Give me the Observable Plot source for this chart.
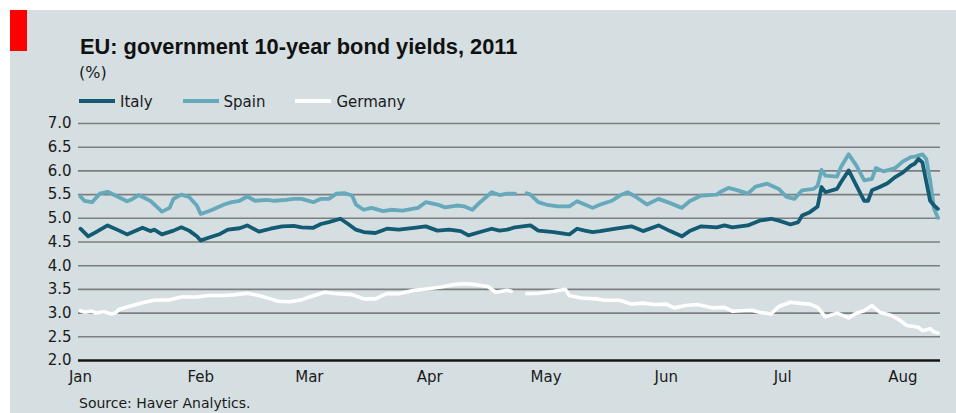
<!DOCTYPE html>
<html>
<head>
<meta charset="utf-8">
<script src="https://cdn.jsdelivr.net/npm/d3@7"></script>
<script src="https://cdn.jsdelivr.net/npm/@observablehq/plot@0.6"></script>
<style>
  html, body { margin: 0; padding: 0; background: #fff; }
  body { width: 956px; height: 413px; position: relative; overflow: hidden; }
  #panel { position: absolute; left: 10px; top: 10px; width: 946px; height: 403px; background: #d5dee1; }
  #red { position: absolute; left: 10px; top: 10px; width: 17px; height: 41px; background: #f00; }
  .t { position: absolute; white-space: nowrap; line-height: 1; }
  #title { left: 80px; top: 34px; font: bold 21.8px "Liberation Sans", Arial, sans-serif; color: #111; }
  #unit { left: 79px; top: 63px; font: 16px "DejaVu Sans", sans-serif; color: #1a1a1a; }
  #legend { position: absolute; left: 79px; top: 95px; display: flex; align-items: center; font: 15px "DejaVu Sans", sans-serif; color: #1a1a1a; line-height: 1; }
  .item { display: flex; align-items: center; margin-right: 30px; }
  .sw { display: inline-block; width: 36px; height: 4px; position: relative; top: -2px; }
  .lab { margin-left: 5px; }
  #chart { position: absolute; left: 0; top: 113px; }
  #source { left: 79px; top: 395px; font: 14px "DejaVu Sans", sans-serif; color: #1a1a1a; }
</style>
</head>
<body>
<div id="panel"></div>
<div id="red"></div>
<div id="title" class="t">EU: government 10-year bond yields, 2011</div>
<div id="unit" class="t">(%)</div>
<div id="legend"></div>
<div id="chart"></div>
<div id="source" class="t">Source: Haver Analytics.</div>
<script>
const seriesNames = ["Italy", "Spain", "Germany"];
const yTicks = [2.0, 2.5, 3.0, 3.5, 4.0, 4.5, 5.0, 5.5, 6.0, 6.5, 7.0];
const monthTicks = ["2011-01-01","2011-02-01","2011-03-01","2011-04-01","2011-05-01","2011-06-01","2011-07-01","2011-08-01"];
const monthLabels = ["Jan","Feb","Mar","Apr","May","Jun","Jul","Aug"];

const italy = [
["2011-01-01",4.78],["2011-01-03",4.62],["2011-01-05",4.71],["2011-01-08",4.85],["2011-01-11",4.74],
["2011-01-13",4.66],["2011-01-17",4.80],["2011-01-19",4.73],["2011-01-20",4.76],["2011-01-22",4.66],
["2011-01-25",4.74],["2011-01-27",4.81],["2011-01-29",4.74],["2011-01-31",4.62],["2011-02-01",4.53],
["2011-02-03",4.59],["2011-02-06",4.67],["2011-02-08",4.76],["2011-02-11",4.79],["2011-02-13",4.85],
["2011-02-16",4.72],["2011-02-19",4.78],["2011-02-22",4.83],["2011-02-25",4.84],["2011-02-27",4.81],
["2011-03-02",4.80],["2011-03-04",4.88],["2011-03-06",4.92],["2011-03-09",4.99],["2011-03-11",4.88],
["2011-03-13",4.76],["2011-03-15",4.71],["2011-03-18",4.69],["2011-03-21",4.78],["2011-03-24",4.76],
["2011-03-28",4.80],["2011-03-31",4.83],["2011-04-03",4.74],["2011-04-06",4.76],["2011-04-09",4.73],
["2011-04-11",4.64],["2011-04-14",4.71],["2011-04-17",4.78],["2011-04-19",4.74],["2011-04-21",4.76],
["2011-04-23",4.81],["2011-04-27",4.85],["2011-04-29",4.74],["2011-05-03",4.71],["2011-05-06",4.67],
["2011-05-07",4.66],["2011-05-09",4.78],["2011-05-11",4.74],["2011-05-13",4.71],["2011-05-15",4.73],
["2011-05-19",4.78],["2011-05-23",4.83],["2011-05-26",4.73],["2011-05-30",4.85],["2011-06-02",4.73],
["2011-06-05",4.62],["2011-06-07",4.73],["2011-06-10",4.83],["2011-06-14",4.81],["2011-06-16",4.85],
["2011-06-18",4.81],["2011-06-22",4.85],["2011-06-25",4.95],["2011-06-28",4.99],["2011-06-30",4.95],
["2011-07-03",4.87],["2011-07-05",4.92],["2011-07-06",5.06],["2011-07-08",5.13],["2011-07-10",5.25],
["2011-07-11",5.66],["2011-07-12",5.55],["2011-07-15",5.62],["2011-07-16",5.76],["2011-07-18",6.01],
["2011-07-20",5.69],["2011-07-22",5.37],["2011-07-23",5.37],["2011-07-24",5.59],["2011-07-26",5.66],
["2011-07-28",5.74],["2011-07-30",5.87],["2011-08-01",5.97],["2011-08-03",6.11],["2011-08-04",6.15],
["2011-08-05",6.25],["2011-08-06",6.18],["2011-08-08",5.37],["2011-08-09",5.27],["2011-08-10",5.20]
];

const spain = [
["2011-01-01",5.46],["2011-01-02",5.37],["2011-01-04",5.34],["2011-01-06",5.52],["2011-01-08",5.56],
["2011-01-10",5.48],["2011-01-13",5.36],["2011-01-14",5.39],["2011-01-16",5.49],["2011-01-19",5.37],
["2011-01-21",5.22],["2011-01-22",5.14],["2011-01-24",5.22],["2011-01-25",5.41],["2011-01-27",5.50],
["2011-01-29",5.45],["2011-01-31",5.27],["2011-02-01",5.09],["2011-02-03",5.15],["2011-02-04",5.18],
["2011-02-07",5.29],["2011-02-09",5.34],["2011-02-11",5.37],["2011-02-13",5.46],["2011-02-15",5.37],
["2011-02-18",5.39],["2011-02-20",5.37],["2011-02-23",5.39],["2011-02-25",5.41],["2011-02-27",5.41],
["2011-03-02",5.34],["2011-03-04",5.41],["2011-03-06",5.41],["2011-03-08",5.52],["2011-03-10",5.53],
["2011-03-12",5.48],["2011-03-13",5.29],["2011-03-15",5.18],["2011-03-17",5.22],["2011-03-20",5.15],
["2011-03-22",5.18],["2011-03-25",5.16],["2011-03-29",5.22],["2011-03-31",5.34],["2011-04-03",5.29],
["2011-04-05",5.23],["2011-04-08",5.27],["2011-04-10",5.25],["2011-04-12",5.18],["2011-04-14",5.34],
["2011-04-17",5.55],["2011-04-19",5.49],["2011-04-21",5.52],["2011-04-23",5.52],["2011-04-24",null],
["2011-04-26",5.53],["2011-04-27",5.50],["2011-04-29",5.34],["2011-05-01",5.29],["2011-05-04",5.25],
["2011-05-07",5.25],["2011-05-09",5.36],["2011-05-11",5.29],["2011-05-13",5.22],["2011-05-15",5.29],
["2011-05-18",5.37],["2011-05-20",5.48],["2011-05-22",5.55],["2011-05-24",5.46],["2011-05-27",5.29],
["2011-05-30",5.41],["2011-06-02",5.32],["2011-06-05",5.22],["2011-06-07",5.36],["2011-06-10",5.48],
["2011-06-14",5.50],["2011-06-15",5.56],["2011-06-17",5.64],["2011-06-19",5.60],["2011-06-22",5.52],
["2011-06-24",5.67],["2011-06-27",5.73],["2011-06-30",5.62],["2011-07-02",5.45],["2011-07-04",5.41],
["2011-07-06",5.59],["2011-07-09",5.62],["2011-07-10",5.69],["2011-07-11",6.02],["2011-07-12",5.90],
["2011-07-15",5.88],["2011-07-16",6.08],["2011-07-18",6.35],["2011-07-20",6.11],["2011-07-22",5.80],
["2011-07-24",5.83],["2011-07-25",6.06],["2011-07-27",5.99],["2011-07-30",6.06],["2011-08-01",6.20],
["2011-08-03",6.29],["2011-08-04",6.30],["2011-08-06",6.35],["2011-08-07",6.25],["2011-08-08",5.80],
["2011-08-09",5.20],["2011-08-10",5.01]
];

const germany = [
["2011-01-01",3.05],["2011-01-02",3.02],["2011-01-04",3.04],["2011-01-05",3.00],["2011-01-07",3.03],
["2011-01-09",2.98],["2011-01-10",3.00],["2011-01-11",3.08],["2011-01-13",3.13],["2011-01-17",3.22],
["2011-01-20",3.27],["2011-01-24",3.28],["2011-01-27",3.34],["2011-01-31",3.34],["2011-02-03",3.37],
["2011-02-07",3.37],["2011-02-10",3.39],["2011-02-13",3.42],["2011-02-16",3.37],["2011-02-19",3.30],
["2011-02-21",3.25],["2011-02-24",3.24],["2011-02-27",3.28],["2011-03-01",3.34],["2011-03-05",3.44],
["2011-03-08",3.41],["2011-03-12",3.39],["2011-03-15",3.30],["2011-03-18",3.30],["2011-03-21",3.41],
["2011-03-24",3.41],["2011-03-28",3.48],["2011-03-31",3.51],["2011-04-04",3.55],["2011-04-07",3.60],
["2011-04-10",3.62],["2011-04-13",3.60],["2011-04-16",3.56],["2011-04-18",3.44],["2011-04-21",3.48],
["2011-04-22",3.46],["2011-04-24",null],["2011-04-26",3.41],["2011-04-29",3.42],["2011-05-03",3.46],
["2011-05-06",3.50],["2011-05-07",3.37],["2011-05-10",3.32],["2011-05-14",3.30],["2011-05-16",3.27],
["2011-05-20",3.27],["2011-05-23",3.19],["2011-05-26",3.21],["2011-05-29",3.18],["2011-06-01",3.19],
["2011-06-03",3.11],["2011-06-06",3.16],["2011-06-09",3.18],["2011-06-13",3.11],["2011-06-16",3.12],
["2011-06-18",3.04],["2011-06-20",3.05],["2011-06-23",3.06],["2011-06-25",3.02],["2011-06-28",2.98],
["2011-06-30",3.14],["2011-07-03",3.23],["2011-07-05",3.21],["2011-07-08",3.19],["2011-07-10",3.12],
["2011-07-12",2.92],["2011-07-15",3.00],["2011-07-18",2.90],["2011-07-20",3.00],["2011-07-22",3.05],
["2011-07-24",3.16],["2011-07-26",3.02],["2011-07-29",2.95],["2011-07-31",2.86],["2011-08-02",2.74],
["2011-08-05",2.70],["2011-08-06",2.63],["2011-08-08",2.67],["2011-08-09",2.60],["2011-08-10",2.58]
];

const colors = { Italy: "#135a73", Spain: "#66a9ba", Germany: "#ffffff" };

// Legend
const legend = document.getElementById("legend");
for (const name of seriesNames) {
  const item = document.createElement("div");
  item.className = "item";
  const sw = document.createElement("span");
  sw.className = "sw";
  sw.style.background = colors[name];
  const lab = document.createElement("span");
  lab.className = "lab";
  lab.textContent = name;
  item.append(sw, lab);
  legend.append(item);
}

const parse = d3.utcParse("%Y-%m-%d");
const toRows = (arr) => arr.map(([d, v]) => ({ date: parse(d), value: v }));

const chart = Plot.plot({
  width: 956,
  height: 280,
  marginLeft: 78,
  marginRight: 16,
  marginTop: 10,
  marginBottom: 33,
  style: { background: "transparent", fontFamily: "'DejaVu Sans', sans-serif", fontSize: "15px", color: "#1a1a1a", overflow: "visible" },
  x: {
    type: "utc",
    domain: [new Date("2010-12-31T12:00Z"), new Date("2011-08-10T16:00Z")],
    ticks: monthTicks.map(parse),
    tickFormat: d => monthLabels[d.getUTCMonth()],
    tickSize: 0,
    tickPadding: 11,
    label: null
  },
  y: {
    domain: [2, 7],
    ticks: yTicks,
    tickFormat: d => d.toFixed(1),
    tickSize: 0,
    tickPadding: 7,
    label: null
  },
  marks: [
    Plot.ruleY(yTicks.filter(d => d > 2), { stroke: "#7c7f81", strokeWidth: 1.6 }),
    Plot.line(toRows(germany), { x: "date", y: "value", stroke: colors.Germany, strokeWidth: 3.6, strokeLinejoin: "round" }),
    Plot.line(toRows(spain), { x: "date", y: "value", stroke: colors.Spain, strokeWidth: 3.8, strokeLinejoin: "round" }),
    Plot.line(toRows(italy), { x: "date", y: "value", stroke: colors.Italy, strokeWidth: 3.8, strokeLinejoin: "round" }),
    Plot.ruleY([2], { stroke: "#151515", strokeWidth: 2.5 })
  ]
});
document.getElementById("chart").append(chart);
</script>
</body>
</html>
